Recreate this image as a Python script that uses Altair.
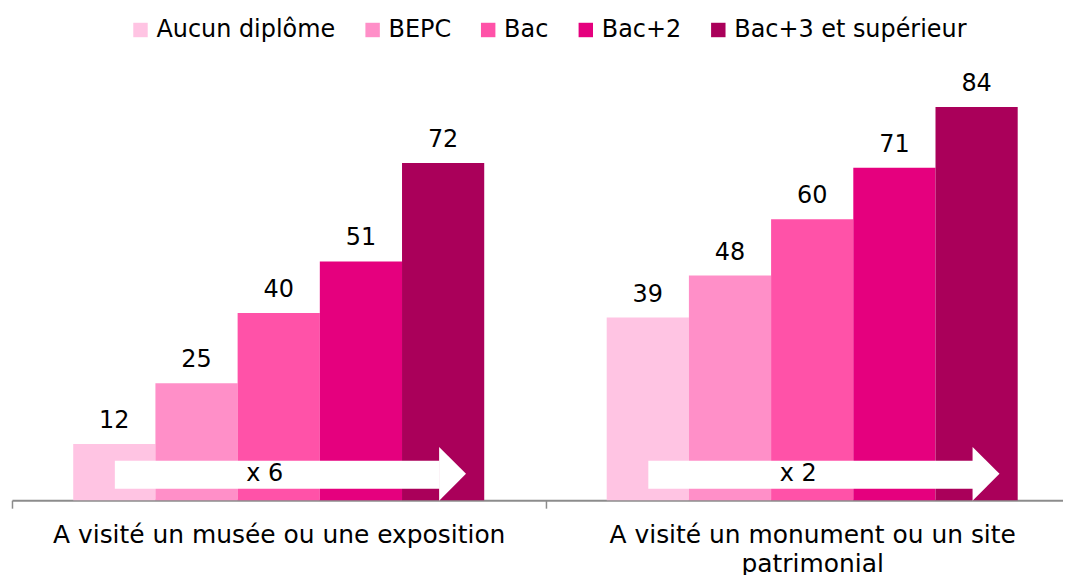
import altair as alt
import pandas as pd

groups = ["A visité un musée ou une exposition",
          "A visité un monument ou un site patrimonial"]
diplomas = ["Aucun diplôme", "BEPC", "Bac", "Bac+2", "Bac+3 et supérieur"]
values_musee = [12, 25, 40, 51, 72]
values_monument = [39, 48, 60, 71, 84]
colors = ["#FFC4E3", "#FF8FC8", "#FF52A8", "#E5007E", "#AA005A"]
ratios = ["x 6", "x 2"]

rows = []
for g, vals in zip(groups, [values_musee, values_monument]):
    for d, v in zip(diplomas, vals):
        rows.append({"groupe": g, "diplome": d, "valeur": v})
df = pd.DataFrame(rows)
arrows = pd.DataFrame({"groupe": groups, "ratio": ratios})

FONT = "DejaVu Sans"

x_enc = alt.X(
    "groupe:N",
    sort=groups,
    scale=alt.Scale(domain=groups, range=[0, 1071], paddingInner=0, paddingOuter=0),
    axis=alt.Axis(
        title=None,
        labelAngle=0,
        labelFont=FONT,
        labelFontSize=25,
        labelColor="#000000",
        labelLineHeight=30,
        labelPadding=14,
        labelLimit=0,
        labelExpr="datum.label == 'A visité un monument ou un site patrimonial' ? "
                  "['A visité un monument ou un site', 'patrimonial'] : datum.label",
        tickBand="extent",
        tickSize=8,
        tickColor="#8C8C8C",
        tickWidth=1.5,
        domainColor="#8C8C8C",
        domainWidth=2,
        grid=False,
    ),
)

y_scale = alt.Scale(domain=[0, 90], nice=False, zero=True)
off_scale = alt.Scale(domain=diplomas, paddingInner=0, paddingOuter=0.745)

base = alt.Chart(df)

bars = base.mark_bar(stroke=None).encode(
    x=x_enc,
    xOffset=alt.XOffset("diplome:N", sort=diplomas, scale=off_scale),
    y=alt.Y("valeur:Q", scale=y_scale, axis=None),
    color=alt.Color(
        "diplome:N",
        sort=diplomas,
        scale=alt.Scale(domain=diplomas, range=colors),
        legend=alt.Legend(
            title=None,
            orient="none",
            direction="horizontal",
            columns=5,
            legendX=117,
            legendY=-61,
            symbolType="square",
            symbolSize=210,
            symbolStrokeWidth=0,
            labelFont=FONT,
            labelFontSize=24,
            labelColor="#000000",
            labelOffset=4,
            columnPadding=25,
            labelLimit=0,
        ),
    ),
)

labels = base.mark_text(font=FONT, fontSize=24, color="#000000",
                        baseline="alphabetic", dy=-16).encode(
    x=x_enc,
    xOffset=alt.XOffset("diplome:N", sort=diplomas, scale=off_scale),
    y=alt.Y("valeur:Q", scale=y_scale, axis=None),
    text=alt.Text("valeur:Q"),
)

arrow_base = alt.Chart(arrows)

arrow_body = arrow_base.mark_bar(color="white", width=326, xOffset=-1.5,
                                 yOffset=-11.5, y2Offset=-39.5).encode(
    x=x_enc,
    y=alt.Y(datum=0, scale=y_scale, axis=None),
    y2=alt.Y2(datum=0),
)

arrow_head = arrow_base.mark_point(
    shape="M0,-1L1,0L0,1Z", filled=True, fill="white", opacity=1,
    strokeWidth=0, size=2916, xOffset=161, yOffset=-26.5,
).encode(
    x=x_enc,
    y=alt.Y(datum=0, scale=y_scale, axis=None),
)

arrow_text = arrow_base.mark_text(font=FONT, fontSize=24, color="#000000",
                                  baseline="middle", align="center",
                                  xOffset=-14, yOffset=-26).encode(
    x=x_enc,
    y=alt.Y(datum=0, scale=y_scale, axis=None),
    text="ratio:N",
)

chart = alt.layer(bars, labels, arrow_body, arrow_head, arrow_text).properties(
    width=1051,
    height=423,
    background="white",
    autosize=alt.AutoSizeParams(type="none"),
    padding={"left": 4, "top": 70, "right": 4, "bottom": 74},
).configure_view(strokeWidth=0, stroke=None)

chart.save("out.html", embed_options={"renderer": "svg", "actions": False})
